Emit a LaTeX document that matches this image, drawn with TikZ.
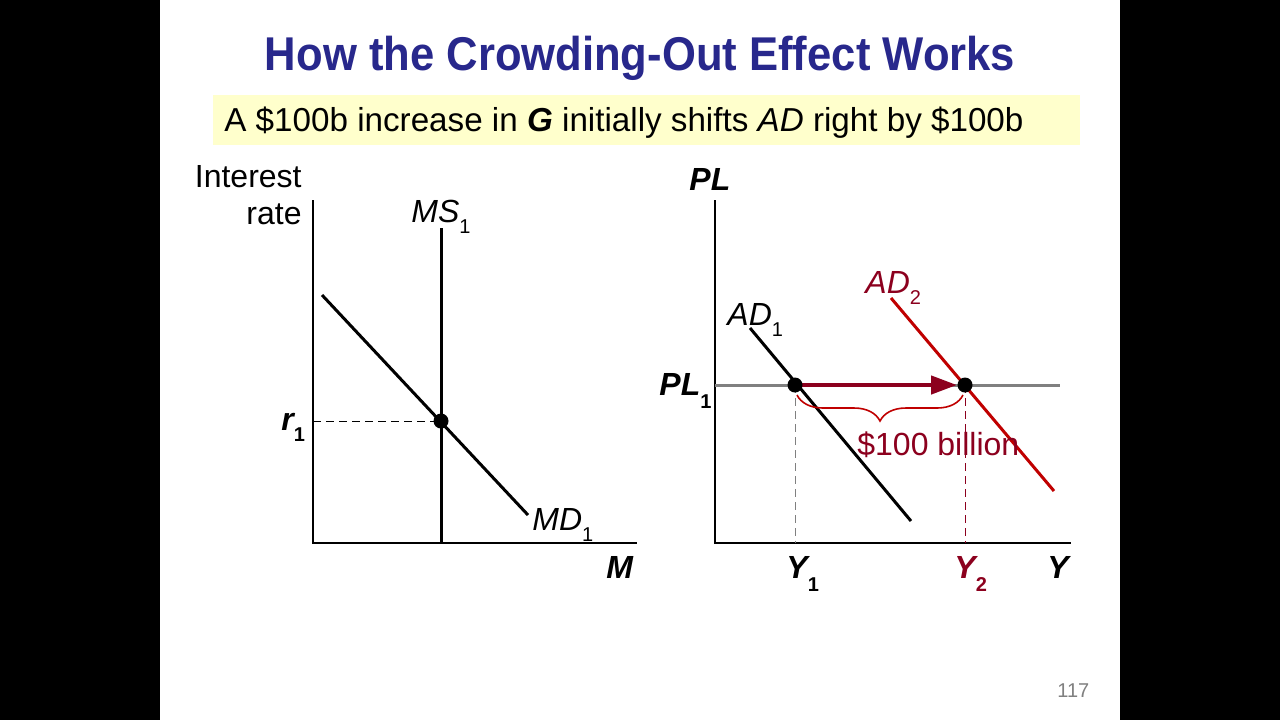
\documentclass[tikz,border=0pt]{standalone}
\usepackage{fontspec}
\setmainfont{Liberation Sans}
\newfontfamily\titlefont[FakeStretch=0.92]{Liberation Sans}
\usetikzlibrary{arrows.meta,decorations.pathreplacing}

\definecolor{titleblue}{RGB}{40,40,140}
\definecolor{notebox}{RGB}{255,255,204}
\definecolor{adred}{RGB}{192,0,0}
\definecolor{shiftred}{RGB}{140,0,30}
\definecolor{plgray}{RGB}{128,128,128}

\newcommand\subnum[2][-5.5pt]{\raisebox{#1}{\upshape\fontsize{10}{10}\selectfont #2}}

\tikzset{
  axis/.style={line width=0.6pt},
  curve/.style={line width=1.5pt},
  lbl/.style={font=\fontsize{16}{16}\selectfont\itshape, inner sep=0pt, anchor=base west},
  blbl/.style={lbl, font=\fontsize{16}{16}\selectfont\bfseries\itshape},
  eqdot/.style={circle, fill=black, inner sep=0pt, minimum size=7.5pt},
  guide/.style={line width=0.5pt, dash pattern=on 4pt off 2.5pt},
}

\begin{document}
\begin{tikzpicture}[x=0.5pt,y=-0.5pt]
\fill[black] (0,0) rectangle (1280,720);
\fill[white] (160,0) rectangle (1120,720);
\useasboundingbox (0,0) rectangle (1280,720);

% heading
\node (title) at (640,70) [anchor=base, text=titleblue, font=\titlefont\fontsize{23.7}{24}\selectfont\bfseries] {How the Crowding-Out Effect Works};
\fill[notebox] (213,95) rectangle (1080,145);
\node (note) at (224,131) [anchor=base west, inner sep=0pt, font=\fontsize{16.6}{17}\selectfont] {A \$100b increase in \textbf{\textit{G}} initially shifts \textit{AD} right by \$100b};

% money market
\coordinate (o1) at (313,543);
\coordinate (ytop1) at (313,200);
\coordinate (xend1) at (637,543);
\draw[axis] (ytop1) -- (o1) -- (xend1);
\coordinate (mstop) at (441,228);
\coordinate (msbot) at (441,543);
\draw[curve] (mstop) -- (msbot);
\coordinate (mdtop) at (322,295);
\coordinate (mdbot) at (528,515);
\draw[curve] (mdtop) -- (mdbot);
\coordinate (r1axis) at (313,421);
\coordinate (e1pos) at (441,421);
\draw[guide] (r1axis) -- (e1pos);
\node[eqdot] (e1) at (e1pos) {};

\node (intr) at (302,187) [anchor=base east, inner sep=0pt, font=\fontsize{16}{16}\selectfont] {Interest};
\node (rate) at (302,224) [anchor=base east, inner sep=0pt, font=\fontsize{16}{16}\selectfont] {rate};
\node[lbl] (mslbl) at (411,222) {MS\subnum{1}};
\node[blbl] (r1lbl) at (281,430) {r\subnum{1}};
\node[lbl] (mdlbl) at (532,530) {MD\subnum{1}};
\node[blbl] (mlbl) at (606,578) {M};

% aggregate demand
\coordinate (o2) at (715,543);
\coordinate (ytop2) at (715,200);
\coordinate (xend2) at (1071,543);
\draw[axis] (ytop2) -- (o2) -- (xend2);
\coordinate (pl1a) at (715,385);
\coordinate (pl1b) at (1060,385);
\draw[plgray, line width=1.5pt] (pl1a) -- (pl1b);
\coordinate (ad1top) at (750,328);
\coordinate (ad1bot) at (911,521);
\draw[curve] (ad1top) -- (ad1bot);
\coordinate (ad2top) at (891,298);
\coordinate (ad2bot) at (1054,491);
\draw[curve, adred] (ad2top) -- (ad2bot);
\coordinate (e2pos) at (795,385);
\coordinate (e3pos) at (965,385);
\coordinate (y1axis) at (795,543);
\coordinate (y2axis) at (965,543);
\draw[guide, plgray] (e2pos) -- (y1axis);
\draw[guide, shiftred] (e3pos) -- (y2axis);
\draw[shiftred, line width=2.2pt, -{Triangle[length=13pt,width=9pt]}, shorten >=4pt] (e2pos) -- (e3pos);
\node[eqdot] (e2) at (e2pos) {};
\node[eqdot] (e3) at (e3pos) {};
\coordinate (bra) at (797,395);
\coordinate (brb) at (963,395);
\draw[adred, line width=0.8pt, decorate, decoration={brace, mirror, amplitude=13pt}] (bra) -- (brb);

\node[blbl] (pllbl) at (689,190) {PL};
\node[lbl, text=shiftred] (ad2lbl) at (865,293) {AD\subnum{2}};
\node[lbl] (ad1lbl) at (727,325) {AD\subnum{1}};
\node[blbl] (pl1lbl) at (659,395) {PL\subnum[-6.5pt]{1}};
\node[blbl] (y1lbl) at (786,578) {Y\subnum[-6.5pt]{1}};
\node[blbl, text=shiftred] (y2lbl) at (954,578) {Y\subnum[-6.5pt]{2}};
\node[blbl] (ylbl) at (1047,578) {Y};
\node (billion) at (857,455) [anchor=base west, inner sep=0pt, text=shiftred, font=\fontsize{16}{16}\selectfont] {\$100 billion};

\node (pagenum) at (1057,697) [anchor=base west, inner sep=0pt, text=plgray, font=\fontsize{10}{10}\selectfont] {117};
\end{tikzpicture}
\end{document}
